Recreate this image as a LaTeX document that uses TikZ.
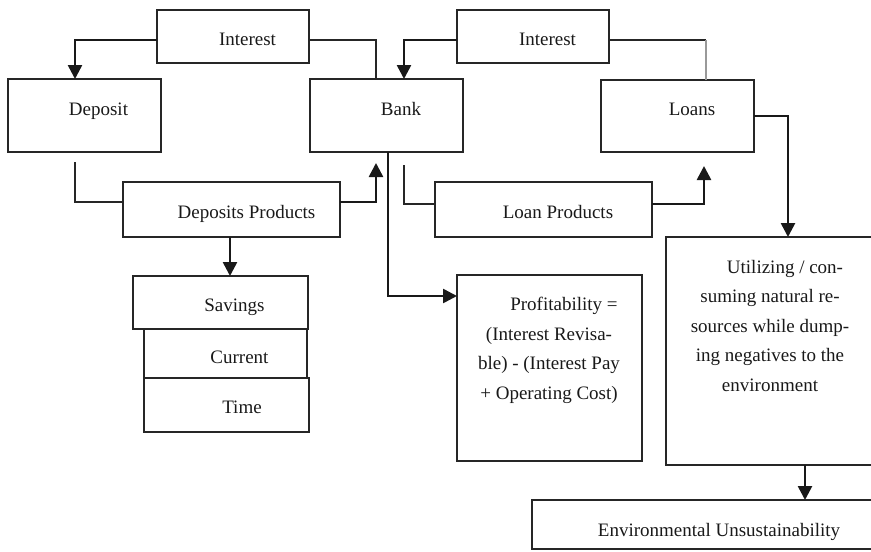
\documentclass[tikz,border=0pt]{standalone}
\usepackage{fontspec}
\setmainfont{Liberation Serif}
\usetikzlibrary{arrows.meta}
\begin{document}
\begin{tikzpicture}[x=1pt,y=-1pt,
  box/.style={draw=black!85, line width=1.9pt, inner sep=0pt, outer sep=0pt, anchor=north west},
  txt/.style={inner sep=0pt, outer sep=0pt, anchor=base, text=black!90, font=\fontsize{19}{29.4}\selectfont},
  ln/.style={line width=1.9pt, draw=black!85},
  arr/.style={line width=2.6pt, draw=black!90, -{Triangle[width=14pt,length=14pt]}},
  thin/.style={line width=1.4pt, draw=black!40},
]
\useasboundingbox (0,0) rectangle (871,552);
\clip (0,0) rectangle (871,552);

% boxes
\node[box, minimum width=152pt, minimum height=53pt] (int1) at (157,10) {};
\node[box, minimum width=153pt, minimum height=73pt] (deposit) at (8,79) {};
\node[box, minimum width=153pt, minimum height=73pt] (bank) at (310,79) {};
\node[box, minimum width=152pt, minimum height=53pt] (int2) at (457,10) {};
\node[box, minimum width=153pt, minimum height=72pt] (loans) at (601,80) {};
\node[box, minimum width=217pt, minimum height=55pt] (dp) at (123,182) {};
\node[box, minimum width=217pt, minimum height=55pt] (lp) at (435,182) {};
\node[box, minimum width=175pt, minimum height=53pt] (savings) at (133,276) {};
\node[box, minimum width=163pt, minimum height=49pt] (current) at (144,329) {};
\node[box, minimum width=165pt, minimum height=54pt] (time) at (144,378) {};
\node[box, minimum width=185pt, minimum height=186pt] (profit) at (457,275) {};
\node[box, minimum width=244pt, minimum height=228pt] (util) at (666,237) {};
\node[box, minimum width=400pt, minimum height=49pt] (env) at (532,500) {};

% texts
\node[txt] (int1t) at (247.5,45) {Interest};
\node[txt] (int2t) at (547.5,45) {Interest};
\node[txt] (depositt) at (98.5,115) {Deposit};
\node[txt] (bankt) at (401,115) {Bank};
\node[txt] (loanst) at (692,115) {Loans};
\node[txt] (dpt) at (246.5,218) {Deposits Products};
\node[txt] (lpt) at (558,218) {Loan Products};
\node[txt] (savingst) at (234.5,311) {Savings};
\node[txt] (currentt) at (239.5,363) {Current};
\node[txt] (timet) at (242,413) {Time};
\node[txt] (envt) at (719,536) {Environmental Unsustainability};
\node[txt, align=center] (profitt) at (549,399)
  {\hspace*{30pt}Profitability =\\(Interest Revisa-\\ble) - (Interest Pay\\+ Operating Cost)};
\node[txt, align=center] (utilt) at (770,391)
  {\hspace*{30pt}Utilizing / con-\\suming natural re-\\sources while dump-\\ing negatives to the\\environment};

% connectors
\draw[arr] ([yshift=-3.5pt]int1.west) -| ([xshift=-9.5pt]deposit.north);
\draw[ln] ([yshift=-3.5pt]int1.east) -| ([xshift=-10.5pt]bank.north);
\draw[arr] ([yshift=-3.5pt]int2.west) -| ([xshift=17.5pt]bank.north);
\coordinate (gcorner) at ([xshift=28.5pt,yshift=40pt]loans.north);
\draw[ln] ([yshift=-3.5pt]int2.east) -- (gcorner);
\draw[thin] (gcorner) -- ([xshift=28.5pt]loans.north);
\draw[arr] (loans.east) -| (util.north);
\draw[ln] ([xshift=-9.5pt,yshift=-10pt]deposit.south) |- ([yshift=7.5pt]dp.west);
\draw[arr] ([yshift=7.5pt]dp.east) -| ([xshift=-10.5pt,yshift=-11pt]bank.south);
\draw[arr] ([xshift=1.5pt]bank.south) |- ([yshift=72pt]profit.west);
\draw[ln] ([xshift=17.5pt,yshift=-13pt]bank.south) |- ([yshift=5.5pt]lp.west);
\draw[arr] ([yshift=5.5pt]lp.east) -| ([xshift=26.5pt,yshift=-14pt]loans.south);
\draw[arr] ([xshift=-1.5pt]dp.south) -- ([xshift=-1.5pt]dp.south |- savings.north);
\draw[arr] ([xshift=17pt]util.south) -- ([xshift=17pt]util.south |- env.north);
\end{tikzpicture}
\end{document}
